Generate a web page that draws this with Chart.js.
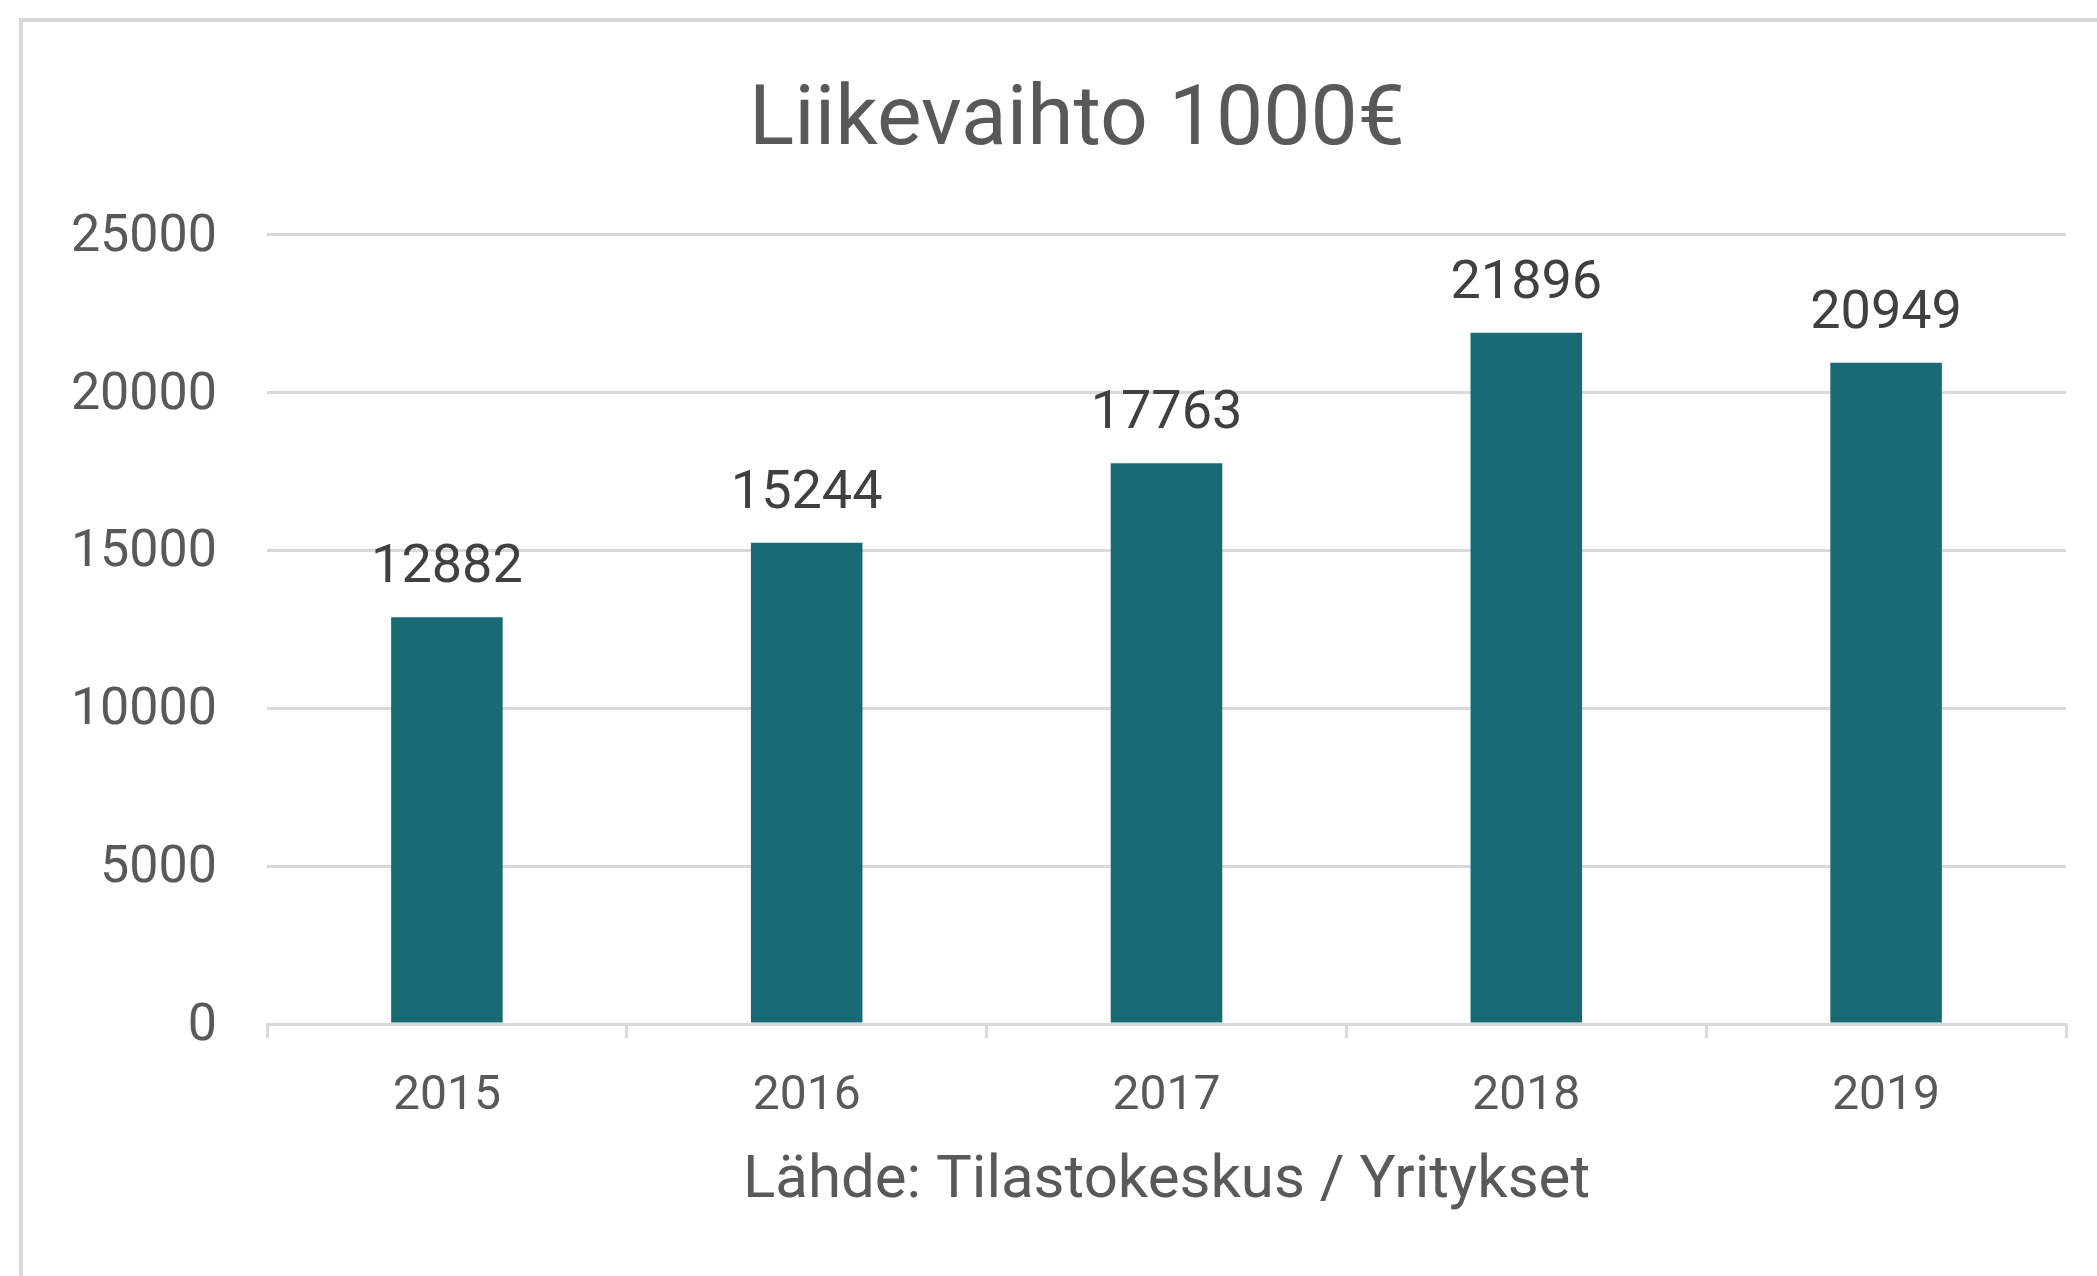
<!DOCTYPE html>
<html>
<head>
<meta charset="utf-8">
<title>Liikevaihto 1000€</title>
<script src="https://cdn.jsdelivr.net/npm/chart.js@4"></script>
<style>
  html, body { margin: 0; padding: 0; background: #ffffff; overflow: hidden; }
  #frame {
    position: absolute; left: 19px; top: 18px; width: 3000px; height: 3000px;
    border-left: 4px solid #d9d9d9; border-top: 4px solid #d9d9d9;
  }
  #chart { position: absolute; left: 0; top: 0; }
</style>
</head>
<body>
<div id="frame"></div>
<canvas id="chart" width="2097" height="1276"></canvas>
<script>
(function () {
  "use strict";

  // Data.
  const years = ["2015", "2016", "2017", "2018", "2019"];
  const revenue = [12882, 15244, 17763, 21896, 20949];
  const yTicks = [0, 5000, 10000, 15000, 20000, 25000];

  const TITLE = "Liikevaihto 1000€";
  const SOURCE = "Lähde: Tilastokeskus / Yritykset";

  const COLORS = {
    bar: "#186b74",
    grid: "#d9d9d9",
    axisText: "#595959",
    valueText: "#404040",
  };
  const FONT = "Roboto, 'Noto Sans', sans-serif";
  const TITLE_SIZE = 84;

  // Value labels above each bar, placed from the bar elements themselves.
  const valueLabels = {
    id: "valueLabels",
    afterDatasetsDraw(chart) {
      const ctx = chart.ctx;
      const meta = chart.getDatasetMeta(0);
      ctx.save();
      ctx.font = "54px " + FONT;
      ctx.fillStyle = COLORS.valueText;
      ctx.textAlign = "center";
      ctx.textBaseline = "alphabetic";
      meta.data.forEach(function (bar, i) {
        ctx.fillText(String(revenue[i]), bar.x, bar.y - 35);
      });
      ctx.restore();
    },
  };

  // The built-in title reserves the space; the text is drawn here so it can
  // sit centred on the outer frame rather than on the canvas.
  const frameTitle = {
    id: "frameTitle",
    afterDraw(chart) {
      const box = chart.titleBlock;
      if (!box) return;
      const ctx = chart.ctx;
      ctx.save();
      ctx.font = TITLE_SIZE + "px " + FONT;
      ctx.fillStyle = COLORS.axisText;
      ctx.textAlign = "center";
      ctx.textBaseline = "middle";
      ctx.fillText(TITLE, 1077, box.top + 73 + TITLE_SIZE * 0.6);
      ctx.restore();
    },
  };

  new Chart(document.getElementById("chart"), {
    type: "bar",
    data: {
      labels: years,
      datasets: [{
        data: revenue,
        backgroundColor: COLORS.bar,
        borderWidth: 0,
        barPercentage: 0.31,
        categoryPercentage: 1,
      }],
    },
    options: {
      responsive: false,
      animation: false,
      layout: { padding: { left: 0, right: 31, top: 0, bottom: 0 } },
      plugins: {
        legend: { display: false },
        tooltip: { enabled: false },
        title: {
          display: true,
          text: TITLE,
          color: "rgba(0,0,0,0)",
          font: { family: FONT, size: TITLE_SIZE, weight: "normal", lineHeight: 1.2 },
          padding: { top: 69, bottom: 65 },
        },
      },
      scales: {
        x: {
          afterFit: function (scale) { scale.height = 252; },
          grid: {
            display: true,
            drawOnChartArea: false,
            drawTicks: true,
            tickLength: 14,
            color: COLORS.grid,
            lineWidth: 3,
          },
          border: { display: true, color: COLORS.grid, width: 3 },
          ticks: {
            color: COLORS.axisText,
            font: { family: FONT, size: 48, lineHeight: 1.2 },
            padding: 30,
          },
          title: {
            display: true,
            text: SOURCE,
            color: COLORS.axisText,
            font: { family: FONT, size: 60, lineHeight: 1.2 },
            padding: { top: 0, bottom: 58 },
          },
        },
        y: {
          min: 0,
          max: 25000,
          afterFit: function (scale) { scale.width = 267; },
          afterBuildTicks: function (scale) {
            scale.ticks = yTicks.map(function (v) { return { value: v }; });
          },
          grid: { color: COLORS.grid, lineWidth: 3, drawTicks: false },
          border: { display: false },
          ticks: {
            color: COLORS.axisText,
            font: { family: FONT, size: 52 },
            padding: 50,
            labelOffset: 3,
            callback: function (v) { return String(v); },
          },
        },
      },
    },
    plugins: [valueLabels, frameTitle],
  });
})();
</script>
</body>
</html>
